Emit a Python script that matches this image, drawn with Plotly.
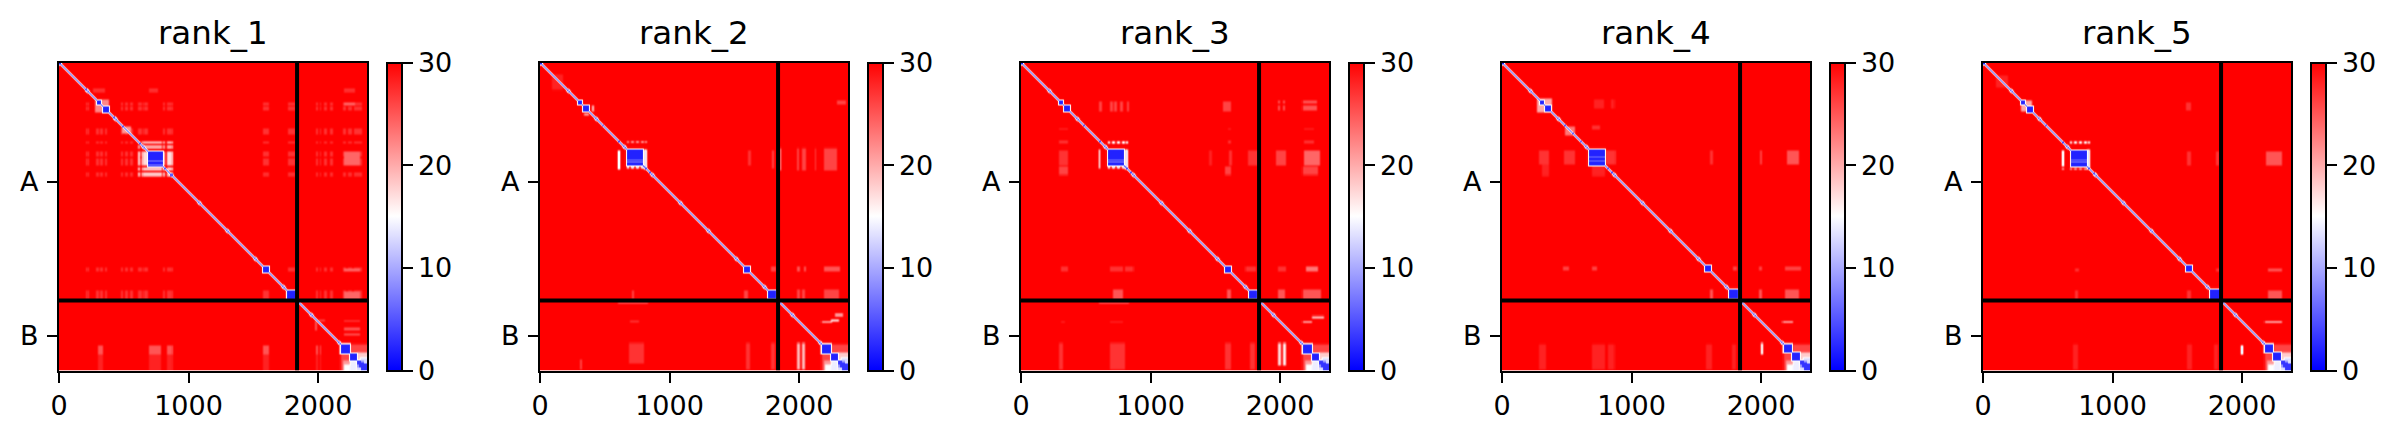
import numpy as np
import plotly.graph_objects as go

TITLES = ["rank_1", "rank_2", "rank_3", "rank_4", "rank_5"]
CHAIN_BREAK = 1838
TOTAL = 2378
BIN = 8
TICK_X = [0, 1000, 2000]
TICK_Y = [919, 2108]
TICK_Y_TEXT = ["A", "B"]
TICK_C = [0, 10, 20, 30]

# diagonal predicted-error profile, from the centre line outward
DIAG_PROFILE = [0, 16, 28]

# (start, end, value) tight domains along the diagonal
BLOCKS = [
    [(288, 324, 2), (332, 384, 2), (677, 798, 2), (1568, 1612, 2), (1755, 1820, 2), (2170, 2240, 2), (2240, 2298, 2), (2298, 2378, 3)],
    [(286, 322, 2), (330, 378, 2), (666, 793, 2), (1565, 1612, 2), (1750, 1818, 2), (2170, 2240, 2), (2240, 2298, 2), (2298, 2378, 3)],
    [(286, 322, 2), (330, 378, 2), (666, 793, 2), (1565, 1612, 2), (1750, 1818, 2), (2170, 2240, 2), (2240, 2298, 2), (2298, 2378, 3)],
    [(290, 322, 2), (330, 376, 2), (664, 793, 2), (1560, 1605, 2), (1745, 1818, 2), (2165, 2235, 2), (2235, 2298, 2), (2298, 2378, 3)],
    [(288, 324, 2), (334, 380, 2), (672, 797, 2), (1560, 1605, 2), (1745, 1822, 2), (2165, 2235, 2), (2235, 2298, 2), (2298, 2378, 3)],
]

# (centre, value) small knots on the diagonal
KNOTS = [
    [(210, 3), (422, 3), (490, 3), (620, 3), (820, 3), (860, 3)],
    [(607, 2), (818, 3), (851, 2), (480, 5)],
    [(477, 3), (607, 2), (818, 3), (851, 2)],
    [(477, 3), (540, 4), (607, 4), (820, 3), (851, 2)],
    [(480, 4), (618, 2), (815, 3), (855, 3)],
]

# lighter horizontal stripes inside the large domain: (row_start, row_end, value)
STRIPES = [
    [(750, 762, 8), (785, 795, 8)],
    [(742, 750, 7), (762, 770, 8)],
    [(742, 750, 7), (762, 770, 8)],
    [(722, 730, 7), (752, 760, 7)],
    [(742, 750, 7), (762, 770, 8)],
]

# pale tips of the last domain, kept over the block: (rows, cols, value)
CORNERS = [
    ((2350, 2378), (2298, 2325), 13),
    ((2298, 2322), (2350, 2378), 13),
    ((2330, 2350), (2298, 2312), 9),
    ((2298, 2312), (2330, 2350), 9),
]

SHARED = [
    ([(2240, 2378)], [(2165, 2240)], 26),
    ([(2298, 2378)], [(2185, 2240)], 21),
    ([(2330, 2378)], [(2190, 2240)], 15),
    ([(2165, 2240)], [(2240, 2378)], 26),
    ([(2235, 2298)], [(2298, 2378)], 18),
    ([(2298, 2378)], [(2240, 2298)], 14),
    ([(2270, 2300)], [(2320, 2378)], 13),
]

RING_DOTS = [(664, 680), (695, 720), (735, 760), (775, 800), (810, 823)]

GROUPS_1 = [
    ([(300, 325), (340, 370), (505, 555), (612, 625), (680, 720), (735, 790), (845, 870), (1575, 1610), (1755, 1820)],
     [(210, 222), (280, 300), (315, 340), (350, 365), (470, 490), (505, 530), (540, 565), (612, 640), (650, 677), (800, 820), (830, 870), (1565, 1615), (1760, 1815)], 27),
    ([(300, 325), (340, 370), (505, 555), (612, 625), (680, 720), (735, 790), (845, 870), (1575, 1610), (1755, 1820)],
     [(1975, 1990), (2005, 2020), (2040, 2060), (2085, 2115), (2185, 2210), (2220, 2260), (2270, 2340)], 27),
    ([(680, 790), (1580, 1610), (1760, 1820)], [(2190, 2320)], 24),
    ([(300, 330)], [(2190, 2280)], 24),
    ([(612, 625), (640, 660), (680, 795), (810, 830), (850, 870)], [(607, 625), (640, 677), (800, 820), (835, 870)], 17),
    ([(612, 625), (640, 660), (810, 830), (850, 870)], [(680, 795)], 17),
    ([(490, 545)], [(480, 555)], 21),
    ([(280, 385)], [(275, 385)], 22),
    ([(200, 225)], [(260, 350), (690, 760), (2190, 2280)], 27),
    ([(2180, 2250)], [(220, 228), (295, 335), (690, 780), (830, 870), (1565, 1615), (1975, 1990), (2005, 2020)], 25),
    ([(2250, 2378)], [(220, 228), (295, 335), (690, 780), (830, 870), (1565, 1615), (1975, 1990), (2005, 2020)], 28),
    ([(1980, 1995), (2040, 2060), (2090, 2105)], [(2190, 2320)], 25),
    ([(1985, 2060)], [(1970, 1985)], 25),
    ([(1975, 1990)], [(1990, 2050)], 26),
    ([(1740, 1820)], [(1740, 1760)], 23),
]
GROUPS_2 = [
    ([(90, 205)], [(85, 175)], 28),
    ([(330, 375)], [(398, 412)], 18),
    ([(395, 410)], [(335, 375)], 19),
    ([(605, 618), (795, 820)], RING_DOTS, 12),
    ([(670, 825)], [(600, 615)], 9),
    ([(665, 825)], [(800, 825)], 13),
    ([(655, 830)], [(1975, 1995), (2015, 2045), (2120, 2130), (2185, 2290)], 26),
    ([(1570, 1608)], [(1975, 2000), (2030, 2045), (2185, 2310)], 25),
    ([(1745, 1820)], [(1975, 2000), (2015, 2040), (2185, 2300)], 26),
    ([(290, 320)], [(2290, 2360)], 26),
    ([(670, 790)], [(1600, 1625)], 27), ([(670, 820)], [(1785, 1800)], 26),
    ([(660, 830)], [(1846, 1860)], 18),
    ([(1570, 1608)], [(1775, 1815)], 26),
    ([(1750, 1820)], [(700, 720), (1570, 1600)], 26),
    ([(2160, 2316)], [(680, 800)], 27),
    ([(2160, 2370)], [(1585, 1620), (1780, 1810)], 27),
    ([(2160, 2370)], [(1975, 2000), (2015, 2040)], 19),
    ([(2290, 2370)], [(300, 320)], 26),
    ([(1990, 2000)], [(2170, 2250)], 12), ([(1975, 1990)], [(2240, 2300)], 15), ([(1940, 1955)], [(2270, 2340)], 18),
    ([(1845, 1855)], [(600, 830)], 22),
    ([(1985, 2000)], [(690, 760)], 27),
]
GROUPS_3 = [
    ([(608, 620)], RING_DOTS, 10), ([(795, 815)], RING_DOTS, 12),
    ([(665, 820)], [(598, 612)], 8), ([(665, 825)], [(800, 825)], 13),
    ([(296, 373)], [(600, 625), (680, 700), (715, 740), (760, 780), (815, 835), (1552, 1616)], 26),
    ([(285, 310), (330, 372)], [(1975, 1995), (2015, 2030), (2170, 2280)], 25),
    ([(505, 515), (600, 620)], [(290, 360), (1590, 1620), (2180, 2260)], 27),
    ([(670, 790)], [(290, 360), (1600, 1625), (1740, 1820)], 27),
    ([(670, 790)], [(1450, 1470)], 28),
    ([(670, 790)], [(2180, 2300)], 24), ([(670, 790)], [(1960, 2040)], 26),
    ([(800, 860)], [(290, 360), (1570, 1620), (2170, 2290)], 26),
    ([(1565, 1610)], [(300, 360), (680, 780), (800, 860), (1730, 1810), (1975, 2040)], 27),
    ([(1565, 1610)], [(2190, 2290)], 23),
    ([(1745, 1820)], [(700, 780), (1580, 1620), (1975, 2030), (2170, 2310)], 25),
    ([(2160, 2370)], [(290, 320), (680, 800), (1570, 1620), (1760, 1800)], 27),
    ([(2160, 2340)], [(1975, 2000)], 17), ([(2160, 2340)], [(2020, 2040)], 16),
    ([(1990, 2000)], [(2170, 2240)], 12), ([(1955, 1965)], [(2240, 2340)], 17),
    ([(1845, 1855)], [(600, 830)], 22), ([(1990, 2000)], [(300, 340), (680, 780)], 27),
]
GROUPS_4 = [
    ([(275, 385)], [(265, 385)], 20),
    ([(490, 560)], [(480, 560)], 23),
    ([(669, 785)], [(280, 360), (470, 560), (800, 870)], 27),
    ([(785, 875)], [(300, 360), (690, 790)], 28),
    ([(280, 350)], [(700, 780), (840, 860)], 28),
    ([(480, 510)], [(690, 750)], 27),
    ([(1570, 1600)], [(460, 510), (690, 730), (1780, 1810), (1975, 2000), (2180, 2300)], 26),
    ([(1745, 1820)], [(1600, 1625), (1975, 2000), (2180, 2290)], 25),
    ([(669, 785)], [(1985, 2000)], 26), ([(669, 785)], [(2190, 2290)], 25),
    ([(669, 785)], [(1600, 1625)], 27),
    ([(2170, 2370)], [(280, 340), (690, 790), (820, 860), (1570, 1620), (1770, 1800)], 28),
    ([(2160, 2250)], [(1990, 2005)], 12),
    ([(1990, 2000)], [(2160, 2240)], 12),
]
GROUPS_5 = [
    ([(285, 375)], [(285, 375)], 20),
    ([(100, 190)], [(95, 195)], 28),
    ([(610, 625), (812, 825)], RING_DOTS, 11),
    ([(670, 800), (812, 825)], [(605, 620)], 10),
    ([(665, 825)], [(800, 825)], 13),
    ([(680, 790)], [(1565, 1600), (1790, 1815)], 27),
    ([(680, 790)], [(2175, 2300)], 25),
    ([(1580, 1610)], [(700, 740), (1790, 1820)], 27),
    ([(1580, 1610)], [(2190, 2300)], 25),
    ([(1750, 1820)], [(700, 730), (1570, 1600)], 27),
    ([(1750, 1820)], [(2190, 2300)], 25),
    ([(300, 370)], [(1560, 1600)], 27),
    ([(2170, 2370)], [(690, 730), (1570, 1610), (1775, 1810)], 28),
    ([(2180, 2245)], [(1985, 2000)], 8),
    ([(1990, 2000)], [(2170, 2300)], 11),
]
GROUPS = [GROUPS_1, GROUPS_2, GROUPS_3, GROUPS_4, GROUPS_5]

# picture geometry (pixels of the 2401 x 438 page)
W, H = 2401, 438
PANEL_LEFT = [59, 540, 1021, 1502, 1983]
PANEL_W, TOP, BOTTOM = 308, 62.5, 370.5
CBAR_GAP, CBAR_W = 328, 15
INK = "#000000"
FONT = "DejaVu Sans"
BWR = [[0, "#0000ff"], [0.5, "#ffffff"], [1, "#ff0000"]]


def idx(v):
    return int(round(v / BIN))


def soften(a, side):
    """The reference was resampled: soften a grid the way its pixels are."""
    for axis in (0, 1):
        p = np.pad(a, [(1, 1) if i == axis else (0, 0) for i in (0, 1)], mode="edge")
        lo = p[:-2, :] if axis == 0 else p[:, :-2]
        hi = p[2:, :] if axis == 0 else p[:, 2:]
        a = (a + side * (lo + hi)) / (1 + 2 * side)
    return a


def build(k):
    n = idx(TOTAL)
    z = np.full((n, n), 30.0)
    for rows, cols, v in SHARED + GROUPS[k]:
        for r0, r1 in rows:
            for c0, c1 in cols:
                part = z[idx(r0):idx(r1), idx(c0):idx(c1)]
                part[part > v] = v
    z = soften(z, 0.5)
    for s, e, v in BLOCKS[k]:
        part = z[max(idx(s) - 1, 0):idx(e) + 1, max(idx(s) - 1, 0):idx(e) + 1]
        part[part > 16] = 16
    for off, v in enumerate(DIAG_PROFILE):
        for i in range(n - off):
            z[i, i + off] = min(z[i, i + off], v)
            z[i + off, i] = min(z[i + off, i], v)
    for s, e, v in BLOCKS[k]:
        z[idx(s):idx(e), idx(s):idx(e)] = v
    for (r0, r1), (c0, c1), v in CORNERS:
        z[idx(r0):idx(r1), idx(c0):idx(c1)] = v
    bs, be, _ = BLOCKS[k][2]
    for r0, r1, v in STRIPES[k]:
        z[idx(r0):idx(r1), idx(bs):idx(be)] = v
    for c, v in KNOTS[k]:
        z[idx(c) - 1:idx(c) + 1, idx(c) - 1:idx(c) + 1] = v
    return soften(z, 0.08)


fig = go.Figure()
layout = {}
yd = [1 - BOTTOM / H, 1 - TOP / H]
for k, left in enumerate(PANEL_LEFT):
    sfx = "" if k == 0 else str(k + 1)
    z = build(k)
    n = z.shape[0]
    centers = (np.arange(n) + 0.5) * TOTAL / n
    fig.add_trace(go.Heatmap(
        z=z, x=centers, y=centers, xaxis="x" + sfx, yaxis="y" + sfx,
        zmin=0, zmax=30, colorscale=BWR, zsmooth="best",
        colorbar=dict(
            x=(left + CBAR_GAP) / W, xanchor="left", xpad=0, ypad=0,
            y=yd[1], yanchor="top", thickness=CBAR_W, thicknessmode="pixels",
            len=BOTTOM - TOP, lenmode="pixels",
            outlinewidth=2, outlinecolor=INK, tickvals=TICK_C, ticks="outside",
            ticklen=10, tickwidth=2, tickcolor=INK,
            tickfont=dict(family=FONT, size=27, color=INK),
        ),
    ))
    for xs, ys in ([CHAIN_BREAK, CHAIN_BREAK], [0, TOTAL]), ([0, TOTAL], [CHAIN_BREAK, CHAIN_BREAK]):
        fig.add_trace(go.Scatter(x=xs, y=ys, mode="lines", xaxis="x" + sfx, yaxis="y" + sfx,
                                 line=dict(color=INK, width=4), showlegend=False, hoverinfo="skip"))
    axis = dict(showgrid=False, zeroline=False, showline=True, mirror=True, linecolor=INK,
                linewidth=2, ticks="outside", ticklen=10, tickwidth=2, tickcolor=INK,
                tickfont=dict(family=FONT, size=27, color=INK))
    layout["xaxis" + sfx] = dict(axis, domain=[left / W, (left + PANEL_W) / W], range=[0, TOTAL],
                                 tickvals=TICK_X, anchor="y" + sfx)
    layout["yaxis" + sfx] = dict(axis, domain=yd, range=[TOTAL, 0], tickvals=TICK_Y,
                                 ticktext=TICK_Y_TEXT, anchor="x" + sfx, ticklabelstandoff=3)
    fig.add_annotation(text=TITLES[k], xref="paper", yref="paper",
                       x=(left + PANEL_W / 2) / W, y=1 - 54 / H, xanchor="center", yanchor="bottom",
                       showarrow=False, font=dict(family=FONT, size=32.5, color=INK))

fig.update_layout(width=W, height=H, margin=dict(l=0, r=0, t=0, b=0, autoexpand=False),
                  paper_bgcolor="white", plot_bgcolor="white", showlegend=False, **layout)
fig.write_html("out.html", config={"displayModeBar": False},
               post_script="document.body.style.margin='0';")
